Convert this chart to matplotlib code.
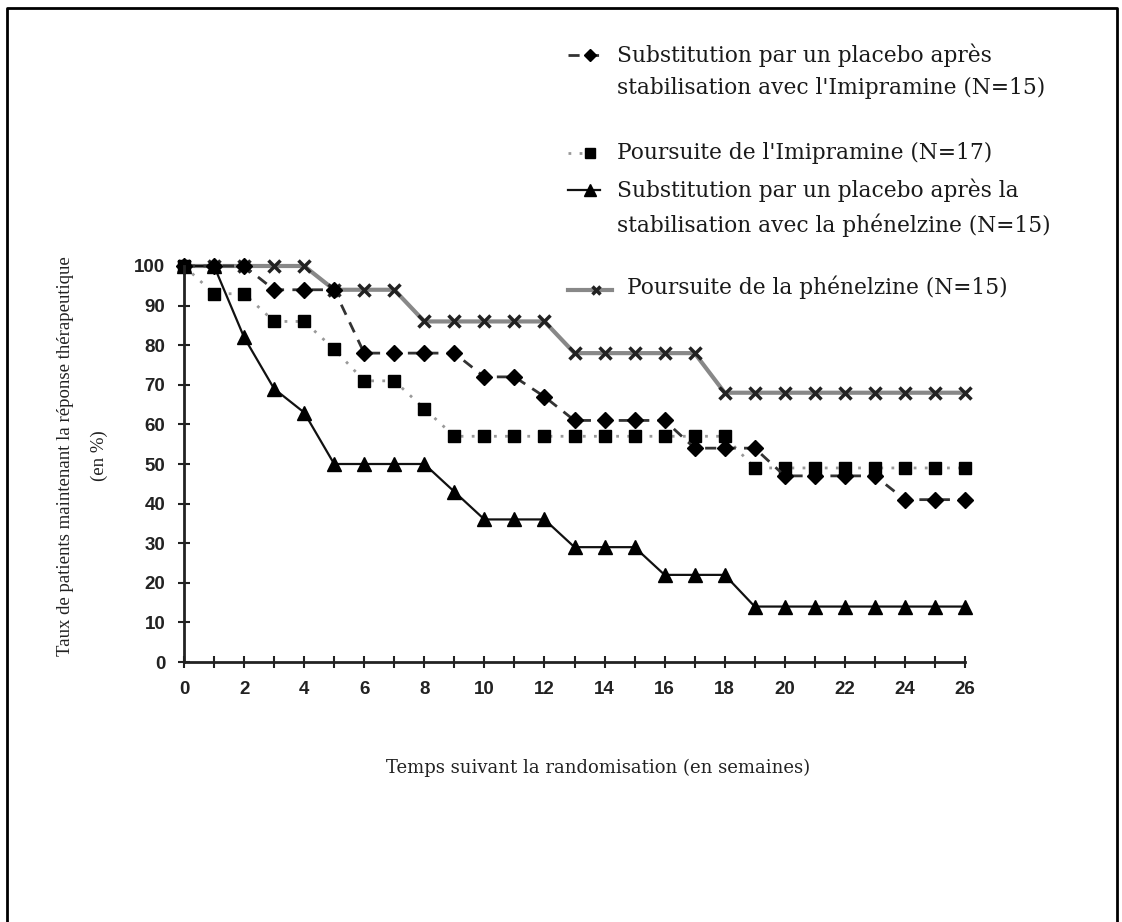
import matplotlib
matplotlib.use('Agg')
import matplotlib.pyplot as plt
from matplotlib.lines import Line2D
import numpy as np

weeks = np.arange(0, 27)
placebo_imi = [100, 100, 100, 94, 94, 94, 78, 78, 78, 78, 72, 72, 67, 61, 61, 61, 61,
               54, 54, 54, 47, 47, 47, 47, 41, 41, 41]
imipramine = [100, 93, 93, 86, 86, 79, 71, 71, 64, 57, 57, 57, 57, 57, 57, 57, 57,
              57, 57, 49, 49, 49, 49, 49, 49, 49, 49]
placebo_phe = [100, 100, 82, 69, 63, 50, 50, 50, 50, 43, 36, 36, 36, 29, 29, 29, 22,
               22, 22, 14, 14, 14, 14, 14, 14, 14, 14]
phenelzine = [100, 100, 100, 100, 100, 94, 94, 94, 86, 86, 86, 86, 86, 78, 78, 78, 78,
              78, 68, 68, 68, 68, 68, 68, 68, 68, 68]

W, H = 1122, 922
fig = plt.figure(figsize=(W / 100, H / 100), dpi=100)


def fx(px):
    return px / W


def fy(py):
    return 1 - py / H


ax = fig.add_axes([fx(184), fy(662), fx(965) - fx(184), fy(266) - fy(662)])

styles = [
    dict(color='#888888', lw=3, ls='-', marker='x', ms=8, mew=2.5, mec='#222222'),
    dict(color='#111111', lw=1.6, ls='-', marker='^', ms=10, mfc='black', mec='black'),
    dict(color='#999999', lw=2, ls=(0, (1, 3)), marker='s', ms=9, mfc='black', mec='black'),
    dict(color='#333333', lw=2, ls=(0, (4, 3)), marker='D', ms=8, mfc='black', mec='black'),
]
series = [phenelzine, placebo_phe, imipramine, placebo_imi]
for vals, st in zip(series, styles):
    ax.plot(weeks, vals, clip_on=False, **st)

ax.set_xlim(0, 26)
ax.set_ylim(0, 100)
for s in ['top', 'right']:
    ax.spines[s].set_visible(False)
for s in ['left', 'bottom']:
    ax.spines[s].set_linewidth(2)
    ax.spines[s].set_color('#222222')

ax.set_xticks(np.arange(0, 27, 2))
ax.set_xticks(np.arange(0, 27, 1), minor=True)
ax.set_yticks(np.arange(0, 101, 10))
ax.tick_params(axis='both', which='both', direction='inout', length=9, width=1.5,
               color='#222222')
ax.tick_params(axis='x', pad=9)
ax.tick_params(axis='y', pad=9)
for lab in ax.get_xticklabels() + ax.get_yticklabels():
    lab.set_fontfamily('Liberation Sans')
    lab.set_fontweight('bold')
    lab.set_fontsize(13.5)
    lab.set_color('#222222')

ax.set_ylabel('Taux de patients maintenant la réponse thérapeutique\n(en %)',
              family='Liberation Serif', fontsize=13.5, linespacing=2.3, color='#222222')
ax.yaxis.set_label_coords(-0.097, 0.52)
fig.text(fx(598), fy(768), 'Temps suivant la randomisation (en semaines)',
         family='DejaVu Serif', fontsize=13, ha='center', va='center', color='#222222')

# legend, drawn by hand
leg_font = dict(family='DejaVu Serif', fontsize=15.7, color='#1a1a1a', va='center')
entries = [
    (styles[3], 55, 568, 600, [(617, 55, 'Substitution par un placebo après'),
                               (617, 88, "stabilisation avec l'Imipramine (N=15)")]),
    (styles[2], 153, 568, 600, [(617, 153, "Poursuite de l'Imipramine (N=17)")]),
    (styles[1], 190, 568, 600, [(617, 190, 'Substitution par un placebo après la'),
                                (617, 225, 'stabilisation avec la phénelzine (N=15)')]),
    (styles[0], 290, 568, 612, [(627, 287, 'Poursuite de la phénelzine (N=15)')]),
]
for st, y, x0, x1, texts in entries:
    st2 = dict(st)
    st2['ms'] = st['ms'] * 0.8
    fig.add_artist(Line2D([fx(x0), fx(x1)], [fy(y), fy(y)], transform=fig.transFigure,
                          **{k: v for k, v in st2.items() if k != 'marker'}))
    fig.add_artist(Line2D([fx((x0 + x1) / 2 + 6)], [fy(y)], transform=fig.transFigure,
                          ls='none', **{k: v for k, v in st2.items() if k not in ('ls', 'lw', 'color')}))
    for tx, ty, t in texts:
        fig.text(fx(tx), fy(ty), t, **leg_font)

# frame around the figure
fig.add_artist(Line2D([fx(7), fx(7), fx(1117), fx(1117)], [0, fy(8), fy(8), 0],
                      transform=fig.transFigure, color='black', lw=2))

fig.savefig('out.png', dpi=100)
